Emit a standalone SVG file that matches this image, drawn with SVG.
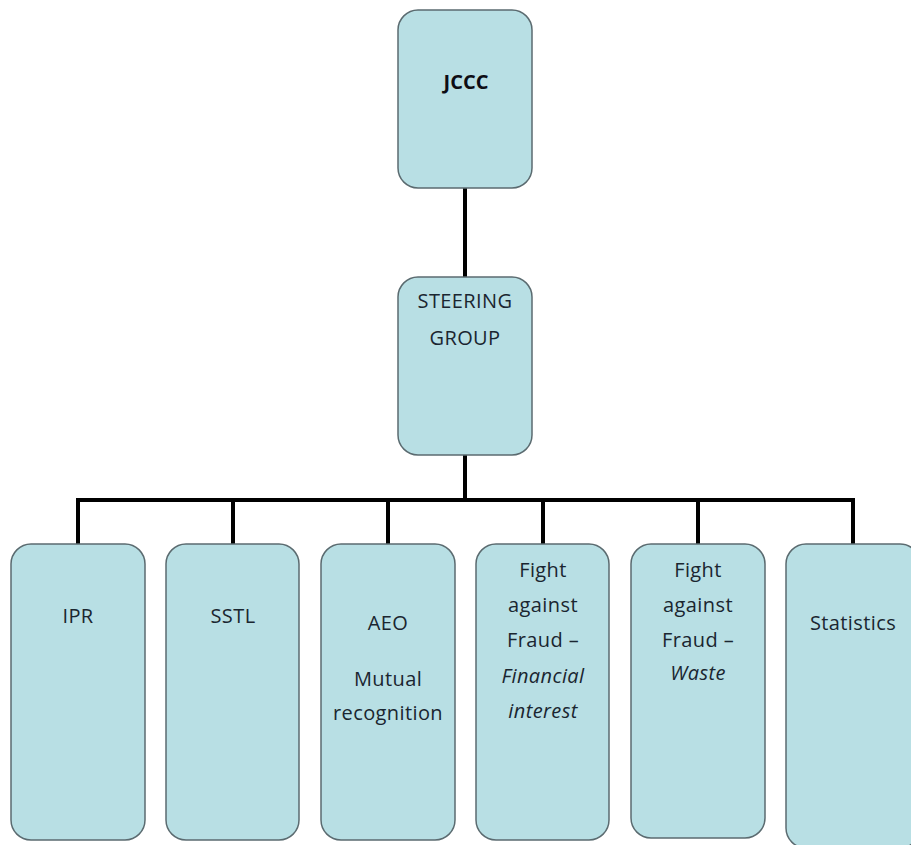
<svg xmlns="http://www.w3.org/2000/svg" width="911" height="845" viewBox="0 0 911 845">
<style>
.box{fill:#b8dfe4;stroke:#5b6b70;stroke-width:1.5}
.t{font-family:"Open Sans","Liberation Sans",sans-serif;font-size:20px;font-weight:500;letter-spacing:0.4px;fill:#1a2630;text-anchor:middle}
.b{font-weight:bold;fill:#0d0d14;letter-spacing:0}
.i{font-style:italic}
.c{stroke:#000;stroke-width:4;fill:none}
</style>
<rect width="911" height="845" fill="#fff"/>
<g id="connectors">
<line class="c" x1="465" y1="188" x2="465" y2="277"/>
<line class="c" x1="465" y1="455" x2="465" y2="500"/>
<line class="c" x1="76" y1="500" x2="855" y2="500"/>
<line class="c" x1="78" y1="500" x2="78" y2="544"/>
<line class="c" x1="233" y1="500" x2="233" y2="544"/>
<line class="c" x1="388" y1="500" x2="388" y2="544"/>
<line class="c" x1="543" y1="500" x2="543" y2="544"/>
<line class="c" x1="698" y1="500" x2="698" y2="544"/>
<line class="c" x1="853" y1="500" x2="853" y2="544"/>
</g>
<g id="jccc"><rect class="box" x="398" y="10" width="134" height="178" rx="20"/><text class="t b" x="466" y="89">JCCC</text></g>
<g id="steering"><rect class="box" x="398" y="277" width="134" height="178" rx="20"/><text class="t" x="465" y="308">STEERING</text><text class="t" x="465" y="345">GROUP</text></g>
<g id="ipr"><rect class="box" x="11" y="544" width="134" height="296" rx="20"/><text class="t" x="78" y="623">IPR</text></g>
<g id="sstl"><rect class="box" x="166" y="544" width="133" height="296" rx="20"/><text class="t" x="233" y="623">SSTL</text></g>
<g id="aeo"><rect class="box" x="321" y="544" width="134" height="296" rx="20"/><text class="t" x="388" y="630">AEO</text><text class="t" x="388" y="686">Mutual</text><text class="t" x="388" y="720">recognition</text></g>
<g id="fraud-financial"><rect class="box" x="476" y="544" width="133" height="296" rx="20"/><text class="t" x="543" y="577">Fight</text><text class="t" x="543" y="612">against</text><text class="t" x="543" y="647">Fraud –</text><text class="t i" x="543" y="683">Financial</text><text class="t i" x="543" y="718">interest</text></g>
<g id="fraud-waste"><rect class="box" x="631" y="544" width="134" height="294" rx="20"/><text class="t" x="698" y="577">Fight</text><text class="t" x="698" y="612">against</text><text class="t" x="698" y="647">Fraud –</text><text class="t i" x="698" y="680">Waste</text></g>
<g id="statistics"><rect class="box" x="786" y="544" width="134" height="304" rx="20"/><text class="t" x="853" y="630">Statistics</text></g>
</svg>
